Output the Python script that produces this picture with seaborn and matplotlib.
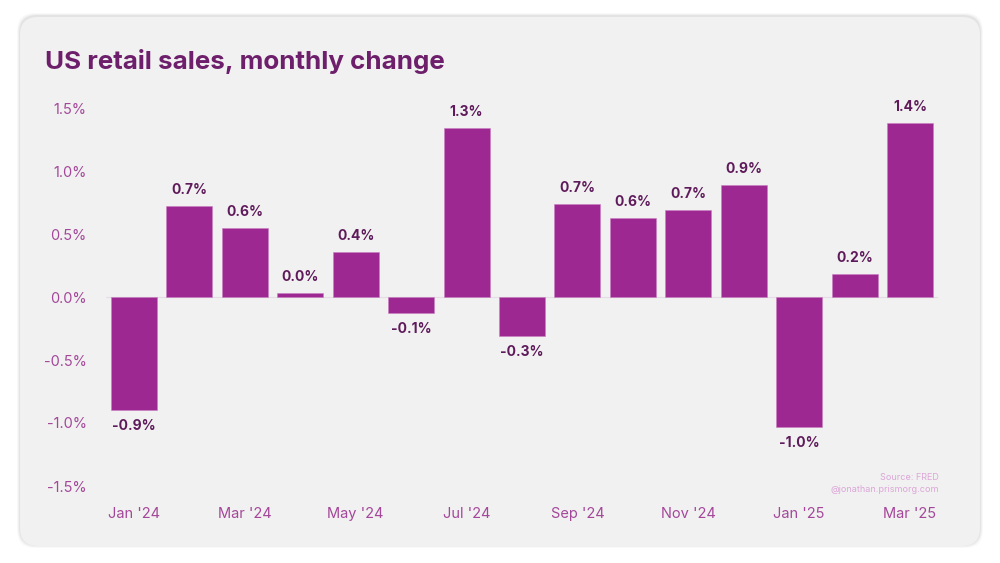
import matplotlib
matplotlib.use("Agg")
import matplotlib.pyplot as plt
import seaborn as sns
import pandas as pd
from matplotlib.patches import FancyBboxPatch

months = ["Jan '24", "Feb '24", "Mar '24", "Apr '24", "May '24", "Jun '24", "Jul '24",
          "Aug '24", "Sep '24", "Oct '24", "Nov '24", "Dec '24", "Jan '25", "Feb '25", "Mar '25"]
changes = [-0.90, 0.72, 0.55, 0.03, 0.36, -0.13, 1.34, -0.31, 0.74, 0.63, 0.69, 0.89, -1.03, 0.18, 1.38]
y_ticks = [-1.5, -1.0, -0.5, 0.0, 0.5, 1.0, 1.5]
x_tick_labels = ["Jan '24", "Mar '24", "May '24", "Jul '24", "Sep '24", "Nov '24", "Jan '25", "Mar '25"]

sns.set_style("white")
plt.rcParams['font.family'] = ['Inter', 'DejaVu Sans']

BAR = "#9e2891"
TITLE = "#6e1f6b"
TICK = "#a4479a"
LABEL = "#5e1a5a"
CARD = "#f1f1f1"

fig = plt.figure(figsize=(10, 5.63), dpi=100)
fig.patch.set_facecolor("white")

# card shadow + card
W, H = 1000, 563
for i, a in enumerate([0.025, 0.035, 0.05]):
    off = 3 - i
    sh = FancyBboxPatch(((20 - off) / W, (17 - off + 1) / H), (960 + 2 * off) / W, (529 + 2 * off) / H,
                        boxstyle="round,pad=0,rounding_size=0.018", transform=fig.transFigure,
                        facecolor="black", edgecolor="none", alpha=a, zorder=-3, mutation_aspect=W / H)
    fig.patches.append(sh)
card = FancyBboxPatch((20 / W, (563 - 546) / H), 960 / W, 529 / H,
                      boxstyle="round,pad=0,rounding_size=0.018", transform=fig.transFigure,
                      facecolor=CARD, edgecolor="none", zorder=-2, mutation_aspect=W / H)
fig.patches.append(card)

left = 106.3 / W
right = 937.7 / W
bottom = (563 - 486) / H
top = (563 - 108) / H
ax = fig.add_axes([left, bottom, right - left, top - bottom])
ax.set_facecolor("none")
ax.set_zorder(1)

df = pd.DataFrame({"month": months, "change": changes})
sns.barplot(data=df, x="month", y="change", color=BAR, saturation=1, width=0.83, ax=ax, zorder=3,
            edgecolor="#c77fc0", linewidth=0.4)

ax.set_xlim(-0.5, len(months) - 0.5)
ax.set_ylim(-1.5, 1.5)
ax.axhline(0, color="#e6dce6", lw=0.8, zorder=2)

ax.set_yticks(y_ticks)
ax.set_yticklabels([f"{t:.1f}%" for t in y_ticks])
xt = [months.index(m) for m in x_tick_labels]
ax.set_xticks(xt)
ax.set_xticklabels(x_tick_labels)
ax.tick_params(axis="y", length=0, pad=14, labelsize=10.5, labelcolor=TICK)
ax.tick_params(axis="x", length=0, pad=15, labelsize=10.5, labelcolor=TICK)
ax.set_xlabel("")
ax.set_ylabel("")
for s in ax.spines.values():
    s.set_visible(False)

for c in ax.containers:
    ax.bar_label(c, labels=[f"{v:.1f}%" for v in changes], padding=6.5,
                 fontsize=10, fontweight="bold", color=LABEL)

fig.text(45 / W, (563 - 61) / H, "US retail sales, monthly change", fontsize=18.7,
         fontweight="bold", color=TITLE, va="center", ha="left")
fig.text(939 / W, (563 - 478) / H, "Source: FRED", fontsize=6.5, color="#dca6d8",
         ha="right", va="center")
fig.text(939 / W, (563 - 489) / H, "@jonathan.prismorg.com", fontsize=6.5, color="#dca6d8",
         ha="right", va="center")

fig.savefig("out.png", dpi=100, facecolor="white")
